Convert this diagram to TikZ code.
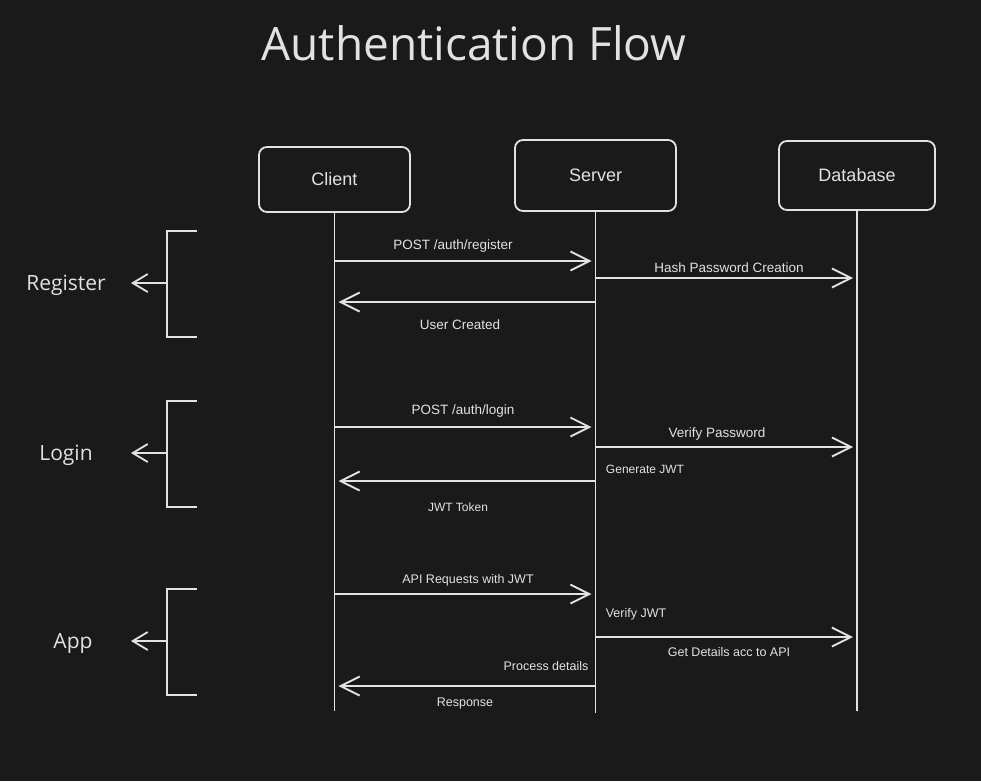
\documentclass[tikz,border=0pt]{standalone}
\usepackage{fontspec}
\setmainfont{Liberation Sans}
\newfontfamily\headfont{Open Sans}
\usetikzlibrary{%
        arrows.meta%
    }
\definecolor{bg}{HTML}{1A1A1A}
\definecolor{ink}{HTML}{E2E2E2}
\tikzset{
  actor/.style={draw=ink,line width=1.8pt,rounded corners=8pt,text=ink,
    font=\fontsize{18}{20}\selectfont},
  life/.style={draw=ink,line width=1.8pt},
  msg/.style={draw=ink,line width=1.9pt,shorten >=4pt,
    -{Straight Barb[length=19pt,width=19pt]}},
  msgtext/.style={text=ink,font=\fontsize{13.5}{15}\selectfont,inner sep=0pt,
    yshift=-1.5pt},
  phase/.style={text=ink,font=\headfont\fontsize{21}{24}\selectfont,inner sep=0pt,
    yshift=-2pt}
}

\begin{document}
\begin{tikzpicture}[x=1pt,y=-1pt]
      \fill[bg] (0,0) rectangle (981,781);% background
      \useasboundingbox (0,0) rectangle (981,781);

      \node[text=ink,font=\headfont\fontsize{46}{50}\selectfont] (title)
        at (474,43) {Authentication Flow};

      % actors
      \node[actor,minimum width=151pt,minimum height=65pt] (client)
        at (334.5,179.5) {Client};
      \node[actor,minimum width=161pt,minimum height=71pt] (server)
        at (595.5,175.5) {Server};
      \node[actor,minimum width=156pt,minimum height=69pt] (database)
        at (857,175.5) {Database};

      % lifelines
      \draw[life] (client.south) -- ++(0,498);
      \draw[life] (server.south) -- ++(0,501);
      \draw[life] (database.south) -- ++(0,500);

      % register
      \draw[msg] (client |- 0,261) -- (server |- 0,261);% POST register
      \draw[msg] (server |- 0,278) -- (database |- 0,278);% hash
      \draw[msg] (server |- 0,302) -- (client |- 0,302);% created
      \node[msgtext] (regpost) at (453,245) {POST /auth/register};
      \node[msgtext] (reghash) at (729,266) {Hash Password Creation};
      \node[msgtext] (regdone) at (460,323) {User Created};

      % login
      \draw[msg] (client |- 0,427) -- (server |- 0,427);% POST login
      \draw[msg] (server |- 0,447) -- (database |- 0,447);% verify
      \draw[msg] (server |- 0,481) -- (client |- 0,481);% token
      \node[msgtext] (logpost) at (463,410) {POST /auth/login};
      \node[msgtext] (logcheck) at (717,433) {Verify Password};
      \node[msgtext,font=\fontsize{12}{14}\selectfont] (loggen)
        at (645,468) {Generate JWT};
      \node[msgtext,font=\fontsize{12}{14}\selectfont] (logjwt)
        at (458,506) {JWT Token};

      % app
      \draw[msg] (client |- 0,594) -- (server |- 0,594);% api request
      \draw[msg] (server |- 0,637) -- (database |- 0,637);% get details
      \draw[msg] (server |- 0,686) -- (client |- 0,686);% response
      \node[msgtext,font=\fontsize{12.5}{14}\selectfont] (appreq)
        at (468,579) {API Requests with JWT};
      \node[msgtext,font=\fontsize{12.5}{14}\selectfont] (appverify)
        at (636,613) {Verify JWT};
      \node[msgtext,font=\fontsize{12.5}{14}\selectfont] (appget)
        at (729,651) {Get Details acc to API};
      \node[msgtext,font=\fontsize{12.5}{14}\selectfont] (appproc)
        at (546,665) {Process details};
      \node[msgtext,font=\fontsize{12.5}{14}\selectfont] (appresp)
        at (465,702) {Response};

      % phases
      \foreach \y/\nm/\lx/\txt in {283/reg/66/Register,453/log/66/Login,
          641/app/73/App}{
        \node[phase] (\nm) at (\lx,\y) {\txt};
        \coordinate (\nm tip) at (131,\y);
        \draw[life] (197,\y-52) -- (167,\y-52) -- (167,\y+54) -- (197,\y+54);
        \draw[life,-{Straight Barb[length=15pt,width=18pt]}] (167,\y)
          -- (\nm tip);
      }
    \end{tikzpicture}
\end{document}
